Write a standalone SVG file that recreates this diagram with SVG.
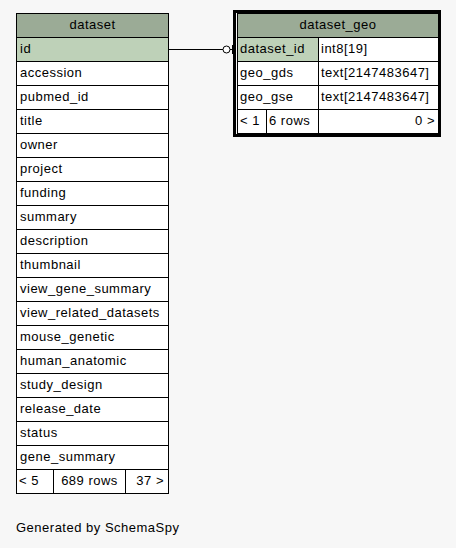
<svg xmlns="http://www.w3.org/2000/svg" width="456" height="548" viewBox="0 0 456 548">
  <style>
    text { font-family: "Liberation Sans", Arial, sans-serif; font-size: 13px; letter-spacing: 0.5px; fill: #000; }
    .c { text-anchor: middle; }
    .r { text-anchor: end; }
    .hdr { fill: #9bab96; stroke: #000; stroke-width: 1; }
    .pk { fill: #bed1b8; stroke: #000; stroke-width: 1; }
    .cell { fill: #ffffff; stroke: #000; stroke-width: 1; }
    .edge { fill: none; stroke: #000; stroke-width: 1; }
  </style>
  <rect x="0" y="0" width="456" height="548" fill="#f7f7f7"/>

  <g id="connectors">
    <line class="edge" x1="168.5" y1="49.5" x2="223" y2="49.5"/>
    <circle cx="226.5" cy="49.5" r="3.5" fill="#fff" stroke="#000"/>
    <line class="edge" x1="230" y1="49.5" x2="235" y2="49.5"/>
    <line class="edge" x1="232.5" y1="45" x2="232.5" y2="54"/>
  </g>

  <g id="dataset">
    <rect class="hdr" x="16.5" y="13.5" width="152" height="24"/>
    <text class="c" x="92.5" y="29">dataset</text>
    <rect class="pk" x="16.5" y="37.5" width="152" height="24"/>
    <text x="20" y="53">id</text>
    <rect class="cell" x="16.5" y="61.5" width="152" height="24"/>
    <text x="20" y="77">accession</text>
    <rect class="cell" x="16.5" y="85.5" width="152" height="24"/>
    <text x="20" y="101">pubmed_id</text>
    <rect class="cell" x="16.5" y="109.5" width="152" height="24"/>
    <text x="20" y="125">title</text>
    <rect class="cell" x="16.5" y="133.5" width="152" height="24"/>
    <text x="20" y="149">owner</text>
    <rect class="cell" x="16.5" y="157.5" width="152" height="24"/>
    <text x="20" y="173">project</text>
    <rect class="cell" x="16.5" y="181.5" width="152" height="24"/>
    <text x="20" y="197">funding</text>
    <rect class="cell" x="16.5" y="205.5" width="152" height="24"/>
    <text x="20" y="221">summary</text>
    <rect class="cell" x="16.5" y="229.5" width="152" height="24"/>
    <text x="20" y="245">description</text>
    <rect class="cell" x="16.5" y="253.5" width="152" height="24"/>
    <text x="20" y="269">thumbnail</text>
    <rect class="cell" x="16.5" y="277.5" width="152" height="24"/>
    <text x="20" y="293">view_gene_summary</text>
    <rect class="cell" x="16.5" y="301.5" width="152" height="24"/>
    <text x="20" y="317">view_related_datasets</text>
    <rect class="cell" x="16.5" y="325.5" width="152" height="24"/>
    <text x="20" y="341">mouse_genetic</text>
    <rect class="cell" x="16.5" y="349.5" width="152" height="24"/>
    <text x="20" y="365">human_anatomic</text>
    <rect class="cell" x="16.5" y="373.5" width="152" height="24"/>
    <text x="20" y="389">study_design</text>
    <rect class="cell" x="16.5" y="397.5" width="152" height="24"/>
    <text x="20" y="413">release_date</text>
    <rect class="cell" x="16.5" y="421.5" width="152" height="24"/>
    <text x="20" y="437">status</text>
    <rect class="cell" x="16.5" y="445.5" width="152" height="24"/>
    <text x="20" y="461">gene_summary</text>
    <rect class="cell" x="16.5" y="469.5" width="152" height="24"/>
    <line class="edge" x1="53.5" y1="469.5" x2="53.5" y2="493.5"/>
    <line class="edge" x1="125.5" y1="469.5" x2="125.5" y2="493.5"/>
    <text x="19" y="485">&lt; 5</text>
    <text class="c" x="89.5" y="485">689 rows</text>
    <text class="r" x="164" y="485">37 &gt;</text>
  </g>

  <g id="dataset_geo">
    <rect x="234.5" y="11.5" width="205" height="124" fill="none" stroke="#000" stroke-width="3"/>
    <rect class="hdr" x="237.5" y="13.5" width="201" height="24"/>
    <text class="c" x="338" y="29">dataset_geo</text>
    <rect class="pk" x="237.5" y="37.5" width="81" height="24"/>
    <rect class="cell" x="318.5" y="37.5" width="120" height="24"/>
    <text x="240" y="53">dataset_id</text>
    <text x="321" y="53">int8[19]</text>
    <rect class="cell" x="237.5" y="61.5" width="81" height="24"/>
    <rect class="cell" x="318.5" y="61.5" width="120" height="24"/>
    <text x="240" y="77">geo_gds</text>
    <text x="321" y="77">text[2147483647]</text>
    <rect class="cell" x="237.5" y="85.5" width="81" height="24"/>
    <rect class="cell" x="318.5" y="85.5" width="120" height="24"/>
    <text x="240" y="101">geo_gse</text>
    <text x="321" y="101">text[2147483647]</text>
    <rect class="cell" x="237.5" y="109.5" width="201" height="24"/>
    <line class="edge" x1="266.5" y1="109.5" x2="266.5" y2="133.5"/>
    <line class="edge" x1="318.5" y1="109.5" x2="318.5" y2="133.5"/>
    <text x="240" y="125">&lt; 1</text>
    <text x="269" y="125">6 rows</text>
    <text class="r" x="435" y="125">0 &gt;</text>
  </g>

  <text x="16" y="532">Generated by SchemaSpy</text>
</svg>
